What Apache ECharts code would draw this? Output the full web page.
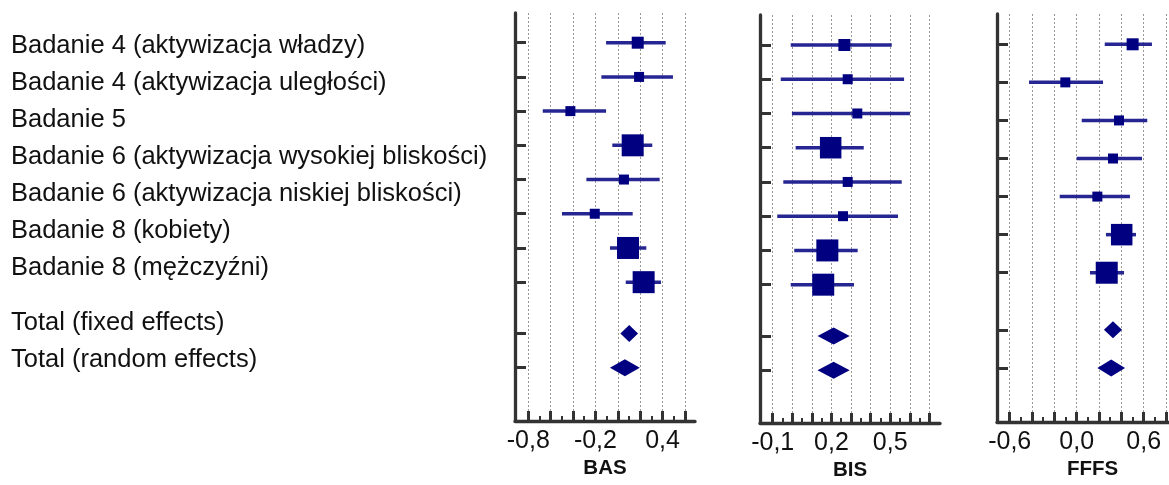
<!DOCTYPE html>
<html><head><meta charset="utf-8">
<script src="https://cdn.jsdelivr.net/npm/echarts@6/dist/echarts.min.js"></script>
<style>html,body{margin:0;padding:0;background:#fff}#c{width:1169px;height:485px}</style>
</head><body><div id="c"></div>
<script>
// ---- labels on the left ----
const rowLabels = [
  'Badanie 4 (aktywizacja władzy)',
  'Badanie 4 (aktywizacja uległości)',
  'Badanie 5',
  'Badanie 6 (aktywizacja wysokiej bliskości)',
  'Badanie 6 (aktywizacja niskiej bliskości)',
  'Badanie 8 (kobiety)',
  'Badanie 8 (mężczyźni)',
  'Total (fixed effects)',
  'Total (random effects)'
];

// ---- BAS ----
const basEst    = [0.178, 0.190, -0.424, 0.133, 0.055, -0.206, 0.091, 0.231];
const basLo     = [-0.105, -0.147, -0.671, -0.049, -0.281, -0.499, -0.070, 0.071];
const basHi     = [0.428, 0.493, -0.105, 0.308, 0.374, 0.133, 0.255, 0.386];
const basWeight = [1.2, 1.0, 1.0, 2.2, 1.0, 1.0, 2.2, 2.2];
const basTotEst = [0.102, 0.063];
const basTotLo  = [0.023, -0.070];
const basTotHi  = [0.181, 0.196];
const basGridVals = [-0.8, -0.6, -0.4, -0.2, 0, 0.2, 0.4, 0.6];
const basTickLabels = [-0.8, -0.2, 0.4];

// ---- BIS ----
const bisEst    = [0.266, 0.283, 0.332, 0.196, 0.283, 0.259, 0.179, 0.158];
const bisLo     = [-0.008, -0.059, -0.002, 0.017, -0.046, -0.077, 0.010, -0.008];
const bisHi     = [0.508, 0.571, 0.601, 0.365, 0.559, 0.540, 0.334, 0.315];
const bisWeight = [1.2, 1.0, 1.0, 2.15, 1.0, 1.0, 2.2, 2.2];
const bisTotEst = [0.211, 0.211];
const bisTotLo  = [0.129, 0.129];
const bisTotHi  = [0.293, 0.293];
const bisGridVals = [-0.1, 0, 0.1, 0.2, 0.3, 0.4, 0.5, 0.6, 0.7];
const bisTickLabels = [-0.1, 0.2, 0.5];

// ---- FFFS ----
const fffsEst    = [0.501, -0.102, 0.379, 0.325, 0.185, 0.403, 0.269];
const fffsLo     = [0.251, -0.427, 0.045, 0.000, -0.152, 0.262, 0.119];
const fffsHi     = [0.674, 0.236, 0.632, 0.585, 0.477, 0.531, 0.424];
const fffsWeight = [1.2, 1.0, 1.0, 1.0, 1.0, 2.15, 2.2];
const fffsTotEst = [0.325, 0.309];
const fffsTotLo  = [0.244, 0.185];
const fffsTotHi  = [0.406, 0.433];
const fffsGridVals = [-0.6, -0.4, -0.2, 0, 0.2, 0.4, 0.6, 0.8];
const fffsTickLabels = [-0.6, 0.0, 0.6];

// ---- layout / styling (not data) ----
const FONT = "'Liberation Sans', Arial, sans-serif";
const AXIS_COLOR = '#333';
const MARK_COLOR = '#000080';
const CI_COLOR = '#262693';
const BASE_SIZE = 10;
const DIAMOND_HALF = 8.5;

const panels = [
  {name:'BAS', est:basEst, lo:basLo, hi:basHi, w:basWeight, tEst:basTotEst, tLo:basTotLo, tHi:basTotHi,
   gridVals:basGridVals, ticks:basTickLabels,
   grid:{left:515, top:13, width:180, height:408}, xMin:-0.919, xMax:0.690, yMin:-0.868, yMax:11.058},
  {name:'BIS', est:bisEst, lo:bisLo, hi:bisHi, w:bisWeight, tEst:bisTotEst, tLo:bisTotLo, tHi:bisTotHi,
   gridVals:bisGridVals, ticks:bisTickLabels,
   grid:{left:760, top:15, width:180, height:408}, xMin:-0.165, xMax:0.7545, yMin:-0.876, yMax:11.04},
  {name:'FFFS', est:fffsEst, lo:fffsLo, hi:fffsHi, w:fffsWeight, tEst:fffsTotEst, tLo:fffsTotLo, tHi:fffsTotHi,
   gridVals:fffsGridVals, ticks:fffsTickLabels,
   grid:{left:997, top:14, width:191, height:408}, xMin:-0.714, xMax:0.997, yMin:-0.796, yMax:9.921}
];

function rowsOf(n) {
  const r = [];
  for (let i = 0; i < n; i++) r.push(i);
  return r;
}
// pooled rows sit after a half-row gap below the last study row
function totalRowsOf(n) { return [n + 0.5, n + 1.5]; }

const labelStudyCount = rowLabels.length - 2;
const labelRows = rowsOf(labelStudyCount).concat(totalRowsOf(labelStudyCount));
const fmt = v => Number(v).toFixed(1).replace('.', ',');

const grids = [], xAxes = [], yAxes = [], series = [];

panels.forEach((p, k) => {
  grids.push(Object.assign({containLabel:false, outerBoundsMode:'none'}, p.grid));
  const n = p.est.length;
  const studyRows = rowsOf(n);
  const totRows = totalRowsOf(n);
  const minors = [];
  for (let i = 0; i < p.gridVals.length - 1; i++) minors.push((p.gridVals[i] + p.gridVals[i+1]) / 2);

  const xMain = xAxes.length;
  xAxes.push({
    gridIndex:k, type:'value', position:'bottom', min:p.xMin, max:p.xMax,
    name:p.name, nameLocation:'middle', nameGap:37, nameMoveOverlap:false,
    nameTextStyle:{fontWeight:'bold', fontSize:20.5, color:'#111', fontFamily:FONT},
    axisLine:{show:true, onZero:false, lineStyle:{color:AXIS_COLOR, width:3.3}},
    axisTick:{show:true, inside:true, length:10, customValues:p.gridVals, lineStyle:{color:AXIS_COLOR, width:3}},
    axisLabel:{show:true, customValues:p.ticks, formatter:fmt, fontSize:25, margin:8, color:'#111', fontFamily:FONT, hideOverlap:false},
    splitLine:{show:true, lineStyle:{type:[2,2], color:'#999', width:1}}
  });
  xAxes.push({
    gridIndex:k, type:'value', position:'bottom', min:p.xMin, max:p.xMax,
    axisLine:{show:false, onZero:false},
    axisTick:{show:true, inside:true, length:5, customValues:minors, lineStyle:{color:AXIS_COLOR, width:2}},
    axisLabel:{show:false}, splitLine:{show:false}
  });

  const yMain = yAxes.length;
  yAxes.push({
    gridIndex:k, type:'value', inverse:true, position:'left', min:p.yMin, max:p.yMax,
    axisLine:{show:true, onZero:false, lineStyle:{color:AXIS_COLOR, width:3.3}},
    axisTick:{show:true, inside:true, length:11, customValues:studyRows.concat(totRows), lineStyle:{color:AXIS_COLOR, width:3}},
    axisLabel:{show:false}, splitLine:{show:false}
  });
  if (k === 0) {
    yAxes.push({
      gridIndex:0, type:'value', inverse:true, position:'left', min:-0.902, max:10.155,
      axisLine:{show:false, onZero:false}, axisTick:{show:false}, splitLine:{show:false},
      axisLabel:{show:true, customValues:labelRows, align:'left', margin:504,
        fontSize:25.5, color:'#111', fontFamily:FONT, hideOverlap:false,
        formatter: v => { const i = labelRows.indexOf(Number(v)); return i >= 0 ? rowLabels[i] : ''; }}
    });
  }

  // CI lines
  series.push({
    type:'custom', xAxisIndex:xMain, yAxisIndex:yMain, z:2, silent:true,
    encode:{x:[0,1], y:2},
    data: p.est.map((_, i) => [p.lo[i], p.hi[i], studyRows[i]]),
    renderItem: (params, api) => {
      const a = api.coord([api.value(0), api.value(2)]);
      const b = api.coord([api.value(1), api.value(2)]);
      return {type:'line', shape:{x1:a[0], y1:a[1], x2:b[0], y2:b[1]}, style:{stroke:CI_COLOR, lineWidth:3.5}};
    }
  });
  // point estimates
  series.push({
    type:'scatter', xAxisIndex:xMain, yAxisIndex:yMain, z:3, silent:true,
    symbol:'rect',
    data: p.est.map((v, i) => ({value:[v, studyRows[i]], symbolSize: BASE_SIZE * p.w[i]})),
    itemStyle:{color:MARK_COLOR, opacity:1}
  });
  // pooled diamonds
  series.push({
    type:'custom', xAxisIndex:xMain, yAxisIndex:yMain, z:3, silent:true,
    encode:{x:[0,1,2], y:3},
    data: p.tEst.map((v, j) => [p.tLo[j], v, p.tHi[j], totRows[j]]),
    renderItem: (params, api) => {
      const r = api.value(3);
      const a = api.coord([api.value(0), r]);
      const c = api.coord([api.value(1), r]);
      const b = api.coord([api.value(2), r]);
      return {type:'polygon', shape:{points:[[a[0], a[1]], [c[0], c[1] - DIAMOND_HALF], [b[0], b[1]], [c[0], c[1] + DIAMOND_HALF]]},
              style:{fill:MARK_COLOR}};
    }
  });
});

const chart = echarts.init(document.getElementById('c'), null, {renderer:'canvas'});
chart.setOption({
  animation:false,
  backgroundColor:'#fff',
  textStyle:{fontFamily:FONT},
  grid:grids, xAxis:xAxes, yAxis:yAxes, series:series
});
</script>
</body></html>
